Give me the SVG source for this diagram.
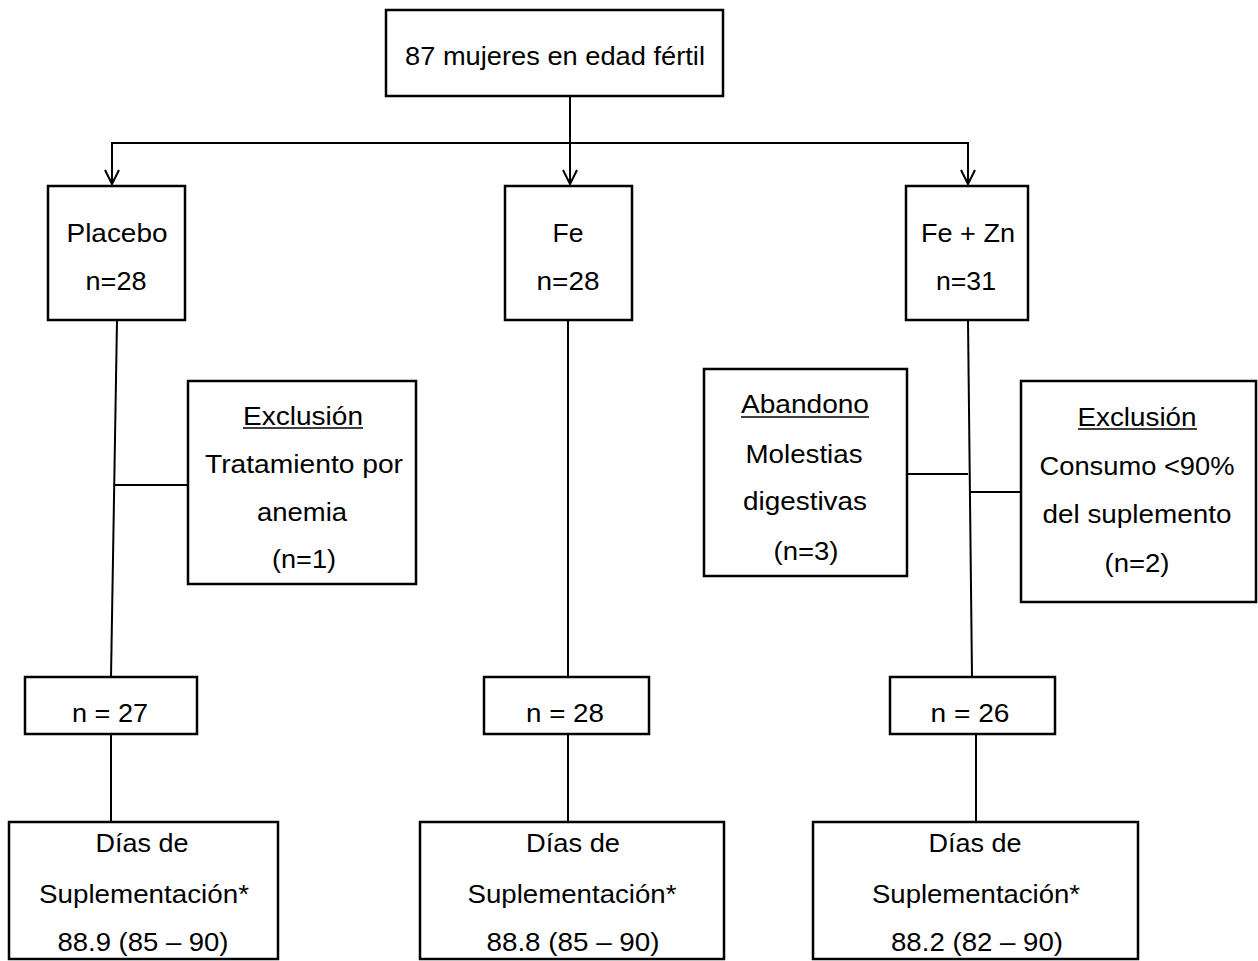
<svg xmlns="http://www.w3.org/2000/svg" width="1258" height="961" viewBox="0 0 1258 961">
<style>
.box{fill:#fff;stroke:#000;stroke-width:2.5}
.ln{fill:none;stroke:#000;stroke-width:2}
text{font-family:"Liberation Sans",Arial,sans-serif;font-size:25px;fill:#000;text-anchor:middle}
.ul{stroke:#000;stroke-width:1.6}
</style>
<defs>
<marker id="arr" markerWidth="18" markerHeight="18" refX="16" refY="9" orient="auto" markerUnits="userSpaceOnUse" viewBox="0 0 18 18">
<path d="M2,2 L16,9 L2,16" fill="none" stroke="#000" stroke-width="2"/>
</marker>
</defs>
<rect width="1258" height="961" fill="#fff"/>
<g id="connectors">
<line class="ln" x1="570" y1="97" x2="570" y2="184" marker-end="url(#arr)"/>
<line class="ln" x1="112" y1="143" x2="968" y2="143"/>
<line class="ln" x1="112" y1="142" x2="112" y2="184" marker-end="url(#arr)"/>
<line class="ln" x1="968" y1="142" x2="968" y2="184" marker-end="url(#arr)"/>
<line class="ln" x1="117" y1="320" x2="111" y2="677"/>
<line class="ln" x1="115" y1="485" x2="188" y2="485"/>
<line class="ln" x1="568" y1="320" x2="568" y2="677"/>
<line class="ln" x1="968" y1="320" x2="972" y2="677"/>
<line class="ln" x1="907" y1="474" x2="968" y2="474"/>
<line class="ln" x1="970" y1="492" x2="1021" y2="492"/>
<line class="ln" x1="111" y1="734" x2="111" y2="821"/>
<line class="ln" x1="568" y1="734" x2="568" y2="821"/>
<line class="ln" x1="976" y1="734" x2="976" y2="821"/>
</g>
<g id="top">
<rect class="box" x="386" y="10" width="337" height="86"/>
<text x="555" y="65" textLength="300" lengthAdjust="spacingAndGlyphs">87 mujeres en edad fértil</text>
</g>
<g id="placebo">
<rect class="box" x="48" y="186" width="137" height="134"/>
<text x="117" y="242" textLength="101" lengthAdjust="spacingAndGlyphs">Placebo</text>
<text x="116" y="290" textLength="61" lengthAdjust="spacingAndGlyphs">n=28</text>
</g>
<g id="fe">
<rect class="box" x="505" y="186" width="127" height="134"/>
<text x="568" y="242" textLength="31" lengthAdjust="spacingAndGlyphs">Fe</text>
<text x="568" y="290" textLength="63" lengthAdjust="spacingAndGlyphs">n=28</text>
</g>
<g id="fezn">
<rect class="box" x="906" y="186" width="122" height="134"/>
<text x="968" y="242" textLength="94" lengthAdjust="spacingAndGlyphs">Fe + Zn</text>
<text x="966" y="290" textLength="60" lengthAdjust="spacingAndGlyphs">n=31</text>
</g>
<g id="exclusion-placebo">
<rect class="box" x="188" y="381" width="228" height="203"/>
<text x="303" y="425" textLength="120" lengthAdjust="spacingAndGlyphs">Exclusión</text>
<line class="ul" x1="243" y1="428" x2="363" y2="428"/>
<text x="304" y="473" textLength="198" lengthAdjust="spacingAndGlyphs">Tratamiento por</text>
<text x="302" y="521" textLength="90" lengthAdjust="spacingAndGlyphs">anemia</text>
<text x="304" y="568" textLength="64" lengthAdjust="spacingAndGlyphs">(n=1)</text>
</g>
<g id="abandono">
<rect class="box" x="704" y="369" width="203" height="207"/>
<text x="805" y="413" textLength="128" lengthAdjust="spacingAndGlyphs">Abandono</text>
<line class="ul" x1="741" y1="417" x2="869" y2="417"/>
<text x="804" y="463" textLength="117" lengthAdjust="spacingAndGlyphs">Molestias</text>
<text x="805" y="510" textLength="124" lengthAdjust="spacingAndGlyphs">digestivas</text>
<text x="806" y="560" textLength="65" lengthAdjust="spacingAndGlyphs">(n=3)</text>
</g>
<g id="exclusion-fezn">
<rect class="box" x="1021" y="381" width="235" height="221"/>
<text x="1137" y="426" textLength="119" lengthAdjust="spacingAndGlyphs">Exclusión</text>
<line class="ul" x1="1078" y1="429" x2="1197" y2="429"/>
<text x="1137" y="475" textLength="195" lengthAdjust="spacingAndGlyphs">Consumo &lt;90%</text>
<text x="1137" y="523" textLength="189" lengthAdjust="spacingAndGlyphs">del suplemento</text>
<text x="1137" y="572" textLength="65" lengthAdjust="spacingAndGlyphs">(n=2)</text>
</g>
<g id="n27">
<rect class="box" x="25" y="677" width="172" height="57"/>
<text x="110" y="722" textLength="76" lengthAdjust="spacingAndGlyphs">n = 27</text>
</g>
<g id="n28">
<rect class="box" x="484" y="677" width="165" height="57"/>
<text x="565" y="722" textLength="78" lengthAdjust="spacingAndGlyphs">n = 28</text>
</g>
<g id="n26">
<rect class="box" x="890" y="677" width="165" height="57"/>
<text x="970" y="722" textLength="79" lengthAdjust="spacingAndGlyphs">n = 26</text>
</g>
<g id="dias-placebo">
<rect class="box" x="9" y="822" width="269" height="137"/>
<text x="142" y="852" textLength="93" lengthAdjust="spacingAndGlyphs">Días de</text>
<text x="144" y="903" textLength="210" lengthAdjust="spacingAndGlyphs">Suplementación*</text>
<text x="143" y="951" textLength="171" lengthAdjust="spacingAndGlyphs">88.9 (85 – 90)</text>
</g>
<g id="dias-fe">
<rect class="box" x="420" y="822" width="304" height="137"/>
<text x="573" y="852" textLength="94" lengthAdjust="spacingAndGlyphs">Días de</text>
<text x="572" y="903" textLength="209" lengthAdjust="spacingAndGlyphs">Suplementación*</text>
<text x="573" y="951" textLength="173" lengthAdjust="spacingAndGlyphs">88.8 (85 – 90)</text>
</g>
<g id="dias-fezn">
<rect class="box" x="813" y="822" width="325" height="137"/>
<text x="975" y="852" textLength="93" lengthAdjust="spacingAndGlyphs">Días de</text>
<text x="976" y="903" textLength="208" lengthAdjust="spacingAndGlyphs">Suplementación*</text>
<text x="977" y="951" textLength="172" lengthAdjust="spacingAndGlyphs">88.2 (82 – 90)</text>
</g>
</svg>
